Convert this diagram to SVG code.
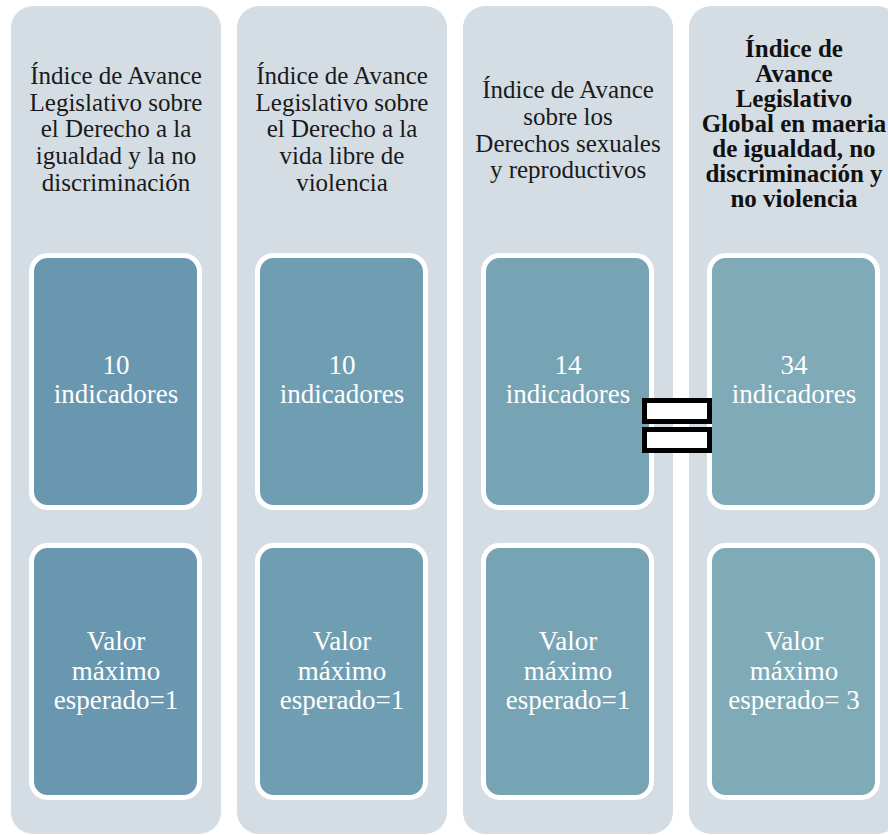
<svg xmlns="http://www.w3.org/2000/svg" width="888" height="835" viewBox="0 0 888 835">
<style>
.col{fill:#d5dde4}
.box{stroke:#ffffff;stroke-width:5}
.hd{font-family:'Liberation Serif',Tinos,'Times New Roman',Times,'DejaVu Serif',serif;font-size:25px;fill:#1a1a1a;text-anchor:middle}
.hb{font-family:'Liberation Serif',Tinos,'Times New Roman',Times,'DejaVu Serif',serif;font-size:25px;font-weight:bold;fill:#111;text-anchor:middle}
.in{font-family:'Liberation Serif',Tinos,'Times New Roman',Times,'DejaVu Serif',serif;font-size:27px;fill:#ffffff;text-anchor:middle}
.eq{fill:#ffffff;stroke:#000000;stroke-width:5}
</style>
<rect width="888" height="835" fill="#ffffff"/>
<g id="col1">
<rect class="col" x="11" y="6" width="210" height="828" rx="22"/>
<text class="hd"><tspan x="116" y="83.5">Índice de Avance</tspan><tspan x="116" y="110.5">Legislativo sobre</tspan><tspan x="116" y="137">el Derecho a la</tspan><tspan x="116" y="164">igualdad y la no</tspan><tspan x="116" y="190.5">discriminación</tspan></text>
<g id="col1-ind"><rect class="box" x="31.5" y="255.5" width="168" height="252" rx="16" fill="#6997af"/>
<text class="in"><tspan x="116" y="374">10</tspan><tspan x="116" y="403">indicadores</tspan></text></g>
<g id="col1-val"><rect class="box" x="31.5" y="545.5" width="168" height="252" rx="16" fill="#6997af"/>
<text class="in"><tspan x="116" y="650">Valor</tspan><tspan x="116" y="680">máximo</tspan><tspan x="116" y="709">esperado=1</tspan></text></g>
</g>
<g id="col2">
<rect class="col" x="237" y="6" width="210" height="828" rx="22"/>
<text class="hd"><tspan x="342" y="83.5">Índice de Avance</tspan><tspan x="342" y="110.5">Legislativo sobre</tspan><tspan x="342" y="137">el Derecho a la</tspan><tspan x="342" y="164">vida libre de</tspan><tspan x="342" y="190.5">violencia</tspan></text>
<g id="col2-ind"><rect class="box" x="257.5" y="255.5" width="168" height="252" rx="16" fill="#6f9eb2"/>
<text class="in"><tspan x="342" y="374">10</tspan><tspan x="342" y="403">indicadores</tspan></text></g>
<g id="col2-val"><rect class="box" x="257.5" y="545.5" width="168" height="252" rx="16" fill="#6f9eb2"/>
<text class="in"><tspan x="342" y="650">Valor</tspan><tspan x="342" y="680">máximo</tspan><tspan x="342" y="709">esperado=1</tspan></text></g>
</g>
<g id="col3">
<rect class="col" x="463" y="6" width="210" height="828" rx="22"/>
<text class="hd"><tspan x="568" y="98">Índice de Avance</tspan><tspan x="568" y="125">sobre los</tspan><tspan x="568" y="152">Derechos sexuales</tspan><tspan x="568" y="178">y reproductivos</tspan></text>
<g id="col3-ind"><rect class="box" x="483.5" y="255.5" width="168" height="252" rx="16" fill="#77a4b4"/>
<text class="in"><tspan x="568" y="374">14</tspan><tspan x="568" y="403">indicadores</tspan></text></g>
<g id="col3-val"><rect class="box" x="483.5" y="545.5" width="168" height="252" rx="16" fill="#77a4b4"/>
<text class="in"><tspan x="568" y="650">Valor</tspan><tspan x="568" y="680">máximo</tspan><tspan x="568" y="709">esperado=1</tspan></text></g>
</g>
<g id="col4">
<rect class="col" x="689" y="6" width="210" height="828" rx="22"/>
<text class="hb"><tspan x="794" y="57">Índice de</tspan><tspan x="794" y="82">Avance</tspan><tspan x="794" y="107">Legislativo</tspan><tspan x="794" y="132">Global en maeria</tspan><tspan x="794" y="157">de igualdad, no</tspan><tspan x="794" y="182">discriminación y</tspan><tspan x="794" y="207">no violencia</tspan></text>
<g id="col4-ind"><rect class="box" x="709.5" y="255.5" width="168" height="252" rx="16" fill="#7faab7"/>
<text class="in"><tspan x="794" y="374">34</tspan><tspan x="794" y="403">indicadores</tspan></text></g>
<g id="col4-val"><rect class="box" x="709.5" y="545.5" width="168" height="252" rx="16" fill="#7faab7"/>
<text class="in"><tspan x="794" y="650">Valor</tspan><tspan x="794" y="680">máximo</tspan><tspan x="794" y="709">esperado= 3</tspan></text></g>
</g>
<g id="equals">
<rect class="eq" x="644.5" y="400.5" width="65" height="21"/>
<rect class="eq" x="644.5" y="429.5" width="65" height="21"/>
</g>
</svg>
